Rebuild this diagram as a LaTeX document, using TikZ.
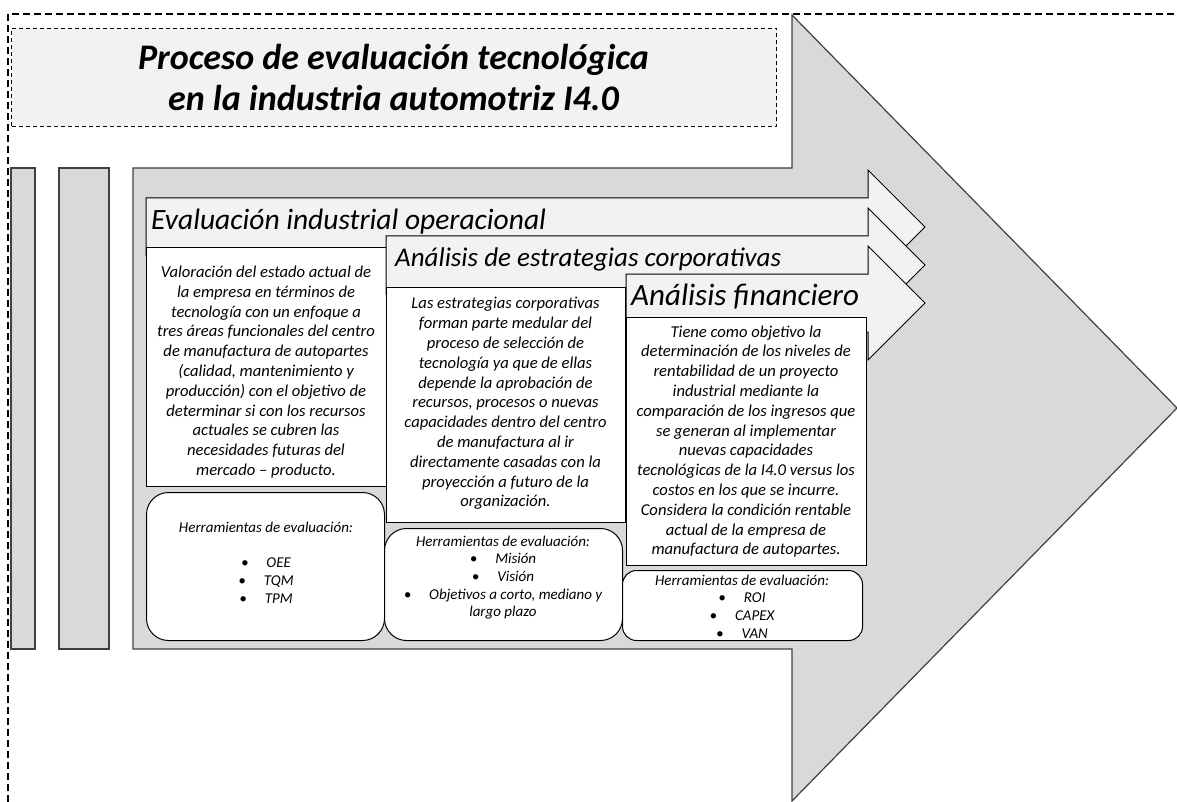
\documentclass[tikz,border=0pt]{standalone}
\usepackage{fontspec}
\setmainfont{Carlito}
\definecolor{arrowgray}{HTML}{D9D9D9}
\definecolor{palegray}{HTML}{F2F2F2}
\definecolor{edgegray}{HTML}{404040}
\tikzset{
  bigarrow/.style={fill=arrowgray, draw=edgegray, line width=1.2pt, line join=miter},
  hdrarrow/.style={fill=palegray, draw=black, line width=1pt, line join=miter},
  wbox/.style={rectangle, fill=white, draw=black, line width=1pt, inner sep=0pt, anchor=north west},
  rbox/.style={rectangle, fill=white, draw=black, line width=1pt, rounded corners=22pt, inner sep=0pt, anchor=north west},
  bodytxt/.style={align=center, inner sep=0pt, font=\itshape\fontsize{16.6}{19.8}\selectfont},
  tooltxt/.style={align=center, inner sep=0pt, font=\itshape\fontsize{15}{17.7}\selectfont},
  hdrtxt/.style={anchor=west, inner sep=0pt, font=\itshape\fontsize{29}{32}\selectfont},
  titletxt/.style={align=center, inner sep=0pt, font=\bfseries\itshape\fontsize{36}{41}\selectfont},
  titlebox/.style={rectangle, fill=palegray, draw=black, line width=1pt, dash pattern=on 4pt off 3pt, inner sep=0pt, anchor=north west},
  outerdash/.style={draw=black, line width=1.8pt, dash pattern=on 7pt off 4pt}
}
\newcommand{\tb}{\textbullet\hspace{1.2em}}
\begin{document}
\begin{tikzpicture}[x=1pt, y=-1pt]
\useasboundingbox (0,0) rectangle (1177,802);
% big striped arrow
\draw[bigarrow] (133,168) -- (792,168) -- (792,15) -- (1177,408) -- (792,801) -- (792,649) -- (133,649) -- cycle;
\draw[bigarrow] (11,168) rectangle (35,649);
\draw[bigarrow] (59,168) rectangle (109,649);
% title
\node[titlebox, minimum width=765pt, minimum height=98pt] (tbox) at (11,28) {};
\node[titletxt] (title) at (393.5,78) {Proceso de evaluación tecnológica\\en la industria automotriz I4.0};
% outer dashed frame
\draw[outerdash] (8,802) -- (8,14) -- (1177,14);
% arrow 1
\draw[hdrarrow] (146,198) -- (868,198) -- (868,170) -- (925,227) -- (868,284) -- (868,256) -- (146,256) -- cycle;
\node[hdrtxt, font=\itshape\fontsize{29.5}{32}\selectfont] (h1) at (151,222) {Evaluación industrial operacional};
\node[wbox, minimum width=240pt, minimum height=239pt] (boxA) at (146,247) {};
\node[bodytxt] (tA) at (266,372) {Valoración del estado actual de\\la empresa en términos de\\tecnología con un enfoque a\\tres áreas funcionales del centro\\de manufactura de autopartes\\(calidad, mantenimiento y\\producción) con el objetivo de\\determinar si con los recursos\\actuales se cubren las\\necesidades futuras del\\mercado – producto.};
\node[rbox, minimum width=238pt, minimum height=148pt] (rA) at (146,492) {};
\node[tooltxt] (ttA) at (266,562.5) {Herramientas de evaluación:\\~\\\tb OEE\\\tb TQM\\\tb TPM};
% arrow 2
\draw[hdrarrow] (386,236) -- (868,236) -- (868,208) -- (925,265) -- (868,322) -- (868,294) -- (386,294) -- cycle;
\node[hdrtxt, font=\itshape\fontsize{27}{30}\selectfont] (h2) at (395,259) {Análisis de estrategias corporativas};
\node[wbox, minimum width=239pt, minimum height=235pt] (boxB) at (386,287) {};
\node[bodytxt] (tB) at (505.5,403.5) {Las estrategias corporativas\\forman parte medular del\\proceso de selección de\\tecnología ya que de ellas\\depende la aprobación de\\recursos, procesos o nuevas\\capacidades dentro del centro\\de manufactura al ir\\directamente casadas con la\\proyección a futuro de la\\organización.};
\node[rbox, minimum width=238pt, minimum height=112pt] (rB) at (384,528) {};
\node[tooltxt] (ttB) at (503,577.5) {Herramientas de evaluación:\\\tb Misión\\\tb Visión\\\tb Objetivos a corto, mediano y\\largo plazo};
% arrow 3
\draw[hdrarrow] (626,274) -- (868,274) -- (868,246) -- (925,303) -- (868,360) -- (868,332) -- (626,332) -- cycle;
\node[hdrtxt, font=\itshape\fontsize{31}{34}\selectfont] (h3) at (631,297) {Análisis financiero};
\node[wbox, minimum width=240pt, minimum height=248pt] (boxC) at (626,317) {};
\node[bodytxt] (tC) at (746,441.5) {Tiene como objetivo la\\determinación de los niveles de\\rentabilidad de un proyecto\\industrial mediante la\\comparación de los ingresos que\\se generan al implementar\\nuevas capacidades\\tecnológicas de la I4.0 versus los\\costos en los que se incurre.\\Considera la condición rentable\\actual de la empresa de\\manufactura de autopartes.};
\node[rbox, minimum width=240pt, minimum height=70pt, rounded corners=14pt] (rC) at (622,570) {};
\node[tooltxt] (ttC) at (742,606.5) {Herramientas de evaluación:\\\tb ROI\\\tb CAPEX\\\tb VAN};
\end{tikzpicture}
\end{document}
